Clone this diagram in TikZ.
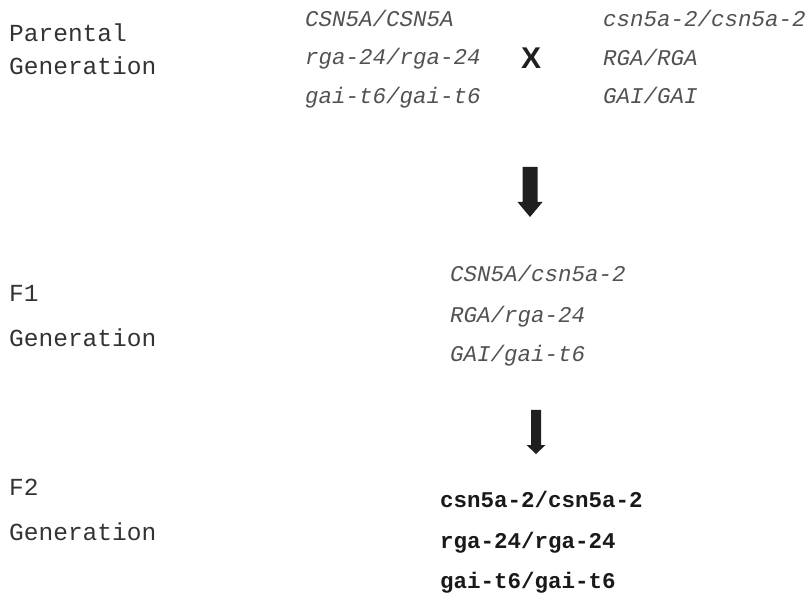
\documentclass[tikz,border=0pt]{standalone}
\usepackage{fontspec}
\setmainfont{Liberation Mono}
\newfontfamily\crossfont{Liberation Sans}
\begin{document}
\begin{tikzpicture}[x=1pt,y=-1pt,
	lbl/.style={anchor=base west,inner sep=0pt,text=black!80,font=\fontsize{24.5}{24.5}\selectfont},
	geno/.style={anchor=base west,inner sep=0pt,text=black!68,font=\fontsize{22.5}{22.5}\selectfont\itshape},
	fgeno/.style={anchor=base west,inner sep=0pt,text=black!90,font=\fontsize{22.5}{22.5}\selectfont\bfseries}]
	\useasboundingbox (0,0) rectangle (806,593);
	% generation labels
	\node[lbl] (par) at (9,42) {Parental};
	\node[lbl] (parg) at (9,75) {Generation};
	\node[lbl] (fa) at (9,302) {F1};
	\node[lbl] (fag) at (9,347) {Generation};
	\node[lbl] (fb) at (9,495) {F2};
	\node[lbl] (fbg) at (9,540) {Generation};
	% parents
	\foreach \n/\y/\a/\b in {pa1/27/CSN5A/CSN5A,pa2/65/rga-24/rga-24,pa3/104/gai-t6/gai-t6}
		\node[geno] (\n) at (305,\y) {\a/\b};
	\foreach \n/\y/\a/\b in {pb1/27/csn5a-2/csn5a-2,pb2/66/RGA/RGA,pb3/104/GAI/GAI}
		\node[geno] (\n) at (603,\y) {\a/\b};
	\node[font=\crossfont\fontsize{30}{30}\selectfont\bfseries,text=black!88,inner sep=0pt] (cross) at (531,58) {X};
	% F1 and F2
	\foreach \n/\y/\a/\b in {fa1/282/CSN5A/csn5a-2,fa2/323/RGA/rga-24,fa3/362/GAI/gai-t6}
		\node[geno] (\n) at (450,\y) {\a/\b};
	\foreach \n/\y/\a/\b in {fb1/507/csn5a-2/csn5a-2,fb2/548/rga-24/rga-24,fb3/588/gai-t6/gai-t6}
		\node[fgeno] (\n) at (440,\y) {\a/\b};
	% block arrows
	\path (530,167) coordinate (arrA) (536,410) coordinate (arrB);
	\foreach \c/\s/\h/\l/\t in {arrA/7.5/12.5/35/15,arrB/5/9.5/35/9}
		\fill[black!88] (\c) ++(-\s,0) -- ++(2*\s,0) -- ++(0,\l) -- ++(\h-\s,0)
		-- ++(-\h,\t) -- ++(-\h,-\t) -- ++(\h-\s,0) -- cycle;
\end{tikzpicture}
\end{document}
